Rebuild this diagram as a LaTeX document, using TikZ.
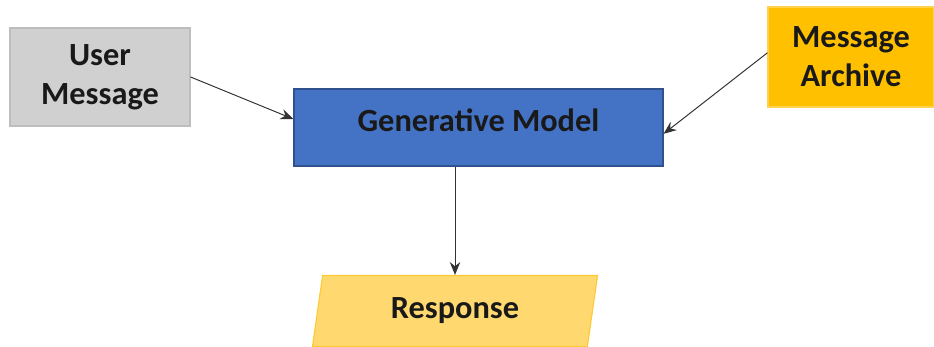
\documentclass[tikz,border=0pt]{standalone}
\usepackage{fontspec}
\setmainfont{Carlito}
\usepackage{xcolor}
\usetikzlibrary{positioning,arrows.meta,shapes.geometric}
\definecolor{usergray}{HTML}{D0D0D0}
\definecolor{usergrayline}{HTML}{BDBDBD}
\definecolor{archgold}{HTML}{FFC000}
\definecolor{archgoldline}{HTML}{FFD24D}
\definecolor{modelblue}{HTML}{4472C4}
\definecolor{modelline}{HTML}{2F528F}
\definecolor{respfill}{HTML}{FFD970}
\definecolor{respline}{HTML}{FFC933}

\begin{document}
\begin{tikzpicture}[
  x=0.025cm, y=-0.025cm,
  font=\fontsize{23}{27.6}\selectfont\bfseries,
  inp/.style={draw=usergrayline, fill=usergray, line width=0.8pt, minimum width=4.5cm, minimum height=2.45cm, align=center, text=black!90},
  arch/.style={draw=archgoldline, fill=archgold, line width=0.8pt, minimum width=4.15cm, minimum height=2.5cm, align=center, text=black!90},
  model/.style={draw=modelline, fill=modelblue, line width=0.8pt, minimum width=9.225cm, minimum height=1.925cm, text depth=11pt, align=center, text=black!90},
  respbox/.style={trapezium, trapezium left angle=74, trapezium right angle=106, trapezium stretches body, draw=respline, fill=respfill, line width=0.8pt, minimum width=7.125cm, minimum height=1.775cm, text=black!90},
  flow/.style={-{Stealth[length=3.2mm,width=2.6mm]}, line width=0.7pt, draw=black!80}
]
\useasboundingbox (0,0) rectangle (934,347);
% Entradas
\node[inp]  (um) at (100,77)    {User\\Message};
\node[arch] (ma) at (851,57)    {Message\\Archive};
% Modelo y salida
\node[model]   (gm)   at (478.5,127.5) {Generative Model};
\node[respbox] (resp) at (455,311)     {Response};

% Conexiones
\draw[flow] (um.east) -- ([yshift=6pt]gm.west);
\draw[flow] ([yshift=3pt]ma.west) -- ([yshift=-4.5pt]gm.east);
\draw[flow] (resp.north |- gm.south) -- (resp.north);
\end{tikzpicture}
\end{document}
